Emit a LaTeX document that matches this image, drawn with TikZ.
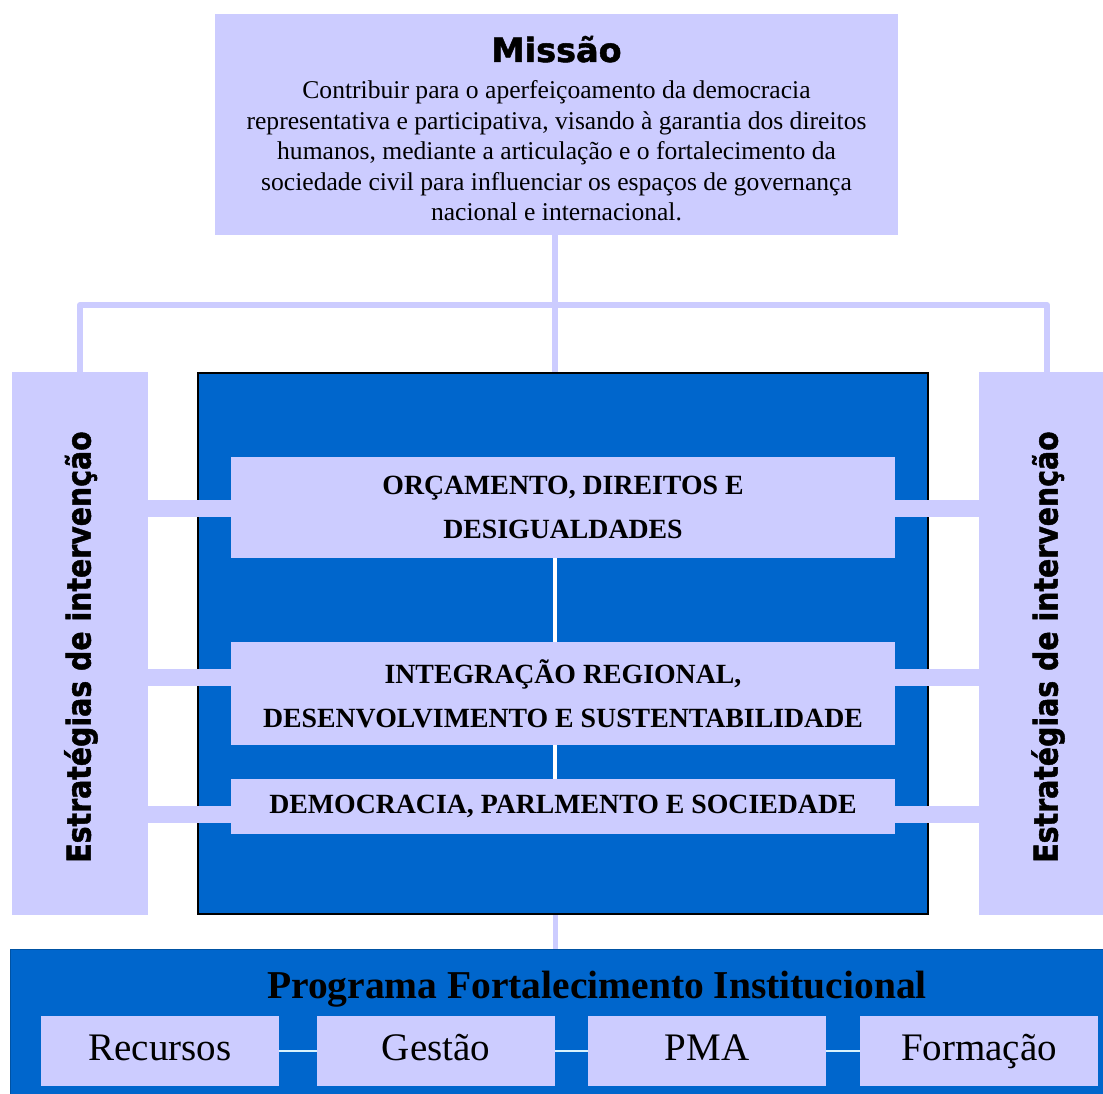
\documentclass[tikz,border=0pt]{standalone}
\usepackage{fontspec}
\setmainfont{Liberation Serif}
\newfontfamily\dvsans{DejaVu Sans}[BoldFeatures={FakeBold=1.5}]
\definecolor{lav}{HTML}{CCCCFF}
\definecolor{cblue}{HTML}{0066CC}
\newcommand{\strattext}{\scalebox{0.86}[1]{\dvsans\bfseries\fontsize{33}{38}\selectfont Estratégias de intervenção}}
\begin{document}
\begin{tikzpicture}[x=1pt,y=-1pt,
  lavbox/.style={fill=lav, draw=none, inner sep=0pt, rectangle},
  treeline/.style={draw=lav, line width=6pt, line join=round, line cap=butt},
  barline/.style={draw=lav, line width=17pt},
  wline/.style={draw=white, line width=4.5pt},
  lline/.style={draw=lav, line width=5pt},
  cline/.style={draw=white!85!cyan, line width=2.5pt},
  boxtext/.style={font=\bfseries\fontsize{27.8}{44}\selectfont, align=center},
  smalltext/.style={font=\fontsize{39}{44}\selectfont, text height=27pt, text depth=8pt},
  strat/.style={rotate=90, inner sep=0pt}]
\useasboundingbox (0,0) rectangle (1103,1094);
\clip (0,0) rectangle (1103,1094);
\fill[white] (0,0) rectangle (1103,1094);

% mission
\node[lavbox, minimum width=683pt, minimum height=221pt] (mis) at (556.5,124.5) {};
\node[anchor=base, inner sep=0pt] (mtitle) at (556.5,62) {\dvsans\bfseries\fontsize{33.5}{40}\selectfont Missão};
\node[anchor=north, align=center, inner sep=0pt, font=\fontsize{25.6}{30.5}\selectfont] (mbody) at (556.5,80.5)
 {Contribuir para o aperfeiçoamento da democracia\\
  representativa e participativa, visando à garantia dos direitos\\
  humanos, mediante a articulação e o fortalecimento da\\
  sociedade civil para influenciar os espaços de governança\\
  nacional e internacional.};

% strategy side boxes
\node[lavbox, minimum width=136pt, minimum height=543pt] (ls) at (80,643.5) {};
\node[lavbox, minimum width=136pt, minimum height=543pt] (rs) at (1047,643.5) {};
\node[strat] (lst) at (81,647) {\strattext};
\node[strat] (rst) at (1048,647) {\strattext};

% core blue box
\node[rectangle, fill=cblue, draw=black, line width=2pt, minimum width=730pt, minimum height=541pt, inner sep=0pt] (core) at (563,643.5) {};

% tree
\coordinate (hub) at (555,305);
\draw[treeline] (mis.south -| hub) -- (hub |- core.north);
\draw[treeline] (ls.north) |- (hub) -| (rs.north);

% inner boxes
\node[lavbox, boxtext, minimum width=664pt, minimum height=101pt] (b1) at (563,507.5) {ORÇAMENTO, DIREITOS E\\DESIGUALDADES};
\node[lavbox, boxtext, minimum width=664pt, minimum height=103pt] (b2) at (563,693.5) {INTEGRAÇÃO REGIONAL,\\DESENVOLVIMENTO E SUSTENTABILIDADE};
\node[lavbox, boxtext, minimum width=664pt, minimum height=55pt] (b3) at (563,806.5) {DEMOCRACIA, PARLMENTO E SOCIEDADE};

\draw[wline] (b1.south -| hub) -- (b2.north -| hub);
\draw[wline] (b2.south -| hub) -- (b3.north -| hub);

% bars
\coordinate (y1) at (0,508);
\coordinate (y2) at (0,677);
\coordinate (y3) at (0,814);
\draw[barline] (ls.east |- y1) -- (b1.west |- y1);
\draw[barline] (b1.east |- y1) -- (rs.west |- y1);
\draw[barline] (ls.east |- y2) -- (b2.west |- y2);
\draw[barline] (b2.east |- y2) -- (rs.west |- y2);
\draw[barline] (ls.east |- y3) -- (b3.west |- y3);
\draw[barline] (b3.east |- y3) -- (rs.west |- y3);

% bottom program
\node[rectangle, fill=cblue, draw=cblue!80!black, line width=1pt, inner sep=0pt, minimum width=1105pt, minimum height=161pt] (prog) at (562.5,1029.5) {};
\draw[lline] (core.south -| hub) -- (prog.north -| hub);
\node[anchor=base, inner sep=0pt, font=\bfseries\fontsize{39.5}{44}\selectfont] (ptitle) at (597,998) {Programa Fortalecimento Institucional};

\node[lavbox, smalltext, minimum width=238pt, minimum height=70pt] (r1) at (160,1051) {Recursos};
\node[lavbox, smalltext, minimum width=238pt, minimum height=70pt] (r2) at (436,1051) {Gestão};
\node[lavbox, smalltext, minimum width=238pt, minimum height=70pt] (r3) at (707,1051) {PMA};
\node[lavbox, smalltext, minimum width=238pt, minimum height=70pt] (r4) at (979,1051) {Formação};
\draw[cline] (r1.east) -- (r2.west);
\draw[cline] (r2.east) -- (r3.west);
\draw[cline] (r3.east) -- (r4.west);
\end{tikzpicture}
\end{document}
